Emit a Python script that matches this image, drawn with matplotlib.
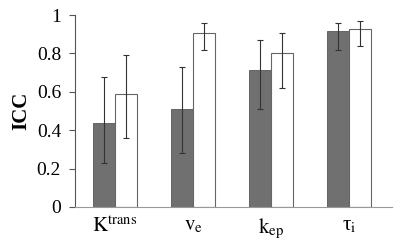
import matplotlib
matplotlib.use("Agg")
import matplotlib.pyplot as plt
import numpy as np

plt.rcParams['font.family'] = ['Liberation Serif', 'DejaVu Serif']
plt.rcParams['mathtext.fontset'] = 'stix'

categories = [r'$\mathrm{K}^{\mathrm{trans}}$', r'$\mathrm{v}_{\mathrm{e}}$',
              r'$\mathrm{k}_{\mathrm{ep}}$', r'τ$_{\mathrm{i}}$']
gray_vals = [0.44, 0.51, 0.715, 0.917]
gray_lo = [0.21, 0.23, 0.205, 0.10]
gray_hi = [0.235, 0.22, 0.155, 0.04]
white_vals = [0.59, 0.905, 0.80, 0.925]
white_lo = [0.23, 0.087, 0.182, 0.088]
white_hi = [0.20, 0.052, 0.105, 0.042]
yticks = [0, 0.2, 0.4, 0.6, 0.8, 1]
ytick_labels = ['0', '0.2', '0.4', '0.6', '0.8', '1']

fig = plt.figure(figsize=(4, 2.47), dpi=100)
ax = fig.add_axes([0.1875, 0.162, 0.7925, 0.777])
x = np.arange(len(categories))
w = 0.282
ek = dict(ecolor='#333333', elinewidth=0.8, capsize=2.5, capthick=0.8)
ax.bar(x - w/2, gray_vals, w, color='#707070', edgecolor='#555555', linewidth=0.6,
       yerr=[gray_lo, gray_hi], error_kw=ek)
ax.bar(x + w/2, white_vals, w, color='white', edgecolor='#666666', linewidth=0.8,
       yerr=[white_lo, white_hi], error_kw=ek)

ax.set_xlim(-0.513, 3.55)
ax.set_ylim(0, 1)
ax.set_yticks(yticks)
ax.set_yticklabels(ytick_labels, fontsize=14)
ax.set_xticks(x)
ax.set_xticklabels(categories, fontsize=15)
ax.tick_params(axis='x', length=0, pad=7)
ax.tick_params(axis='y', length=4, width=0.8, color='#555555', pad=6)
ax.set_ylabel('ICC', fontsize=15, fontweight='bold', labelpad=4)
for s in ['top', 'right']:
    ax.spines[s].set_visible(False)
ax.spines['left'].set_color('#555555')
ax.spines['bottom'].set_color('#999999')
ax.spines['left'].set_linewidth(0.8)
ax.spines['bottom'].set_linewidth(0.8)

fig.savefig('out.png', dpi=100)
